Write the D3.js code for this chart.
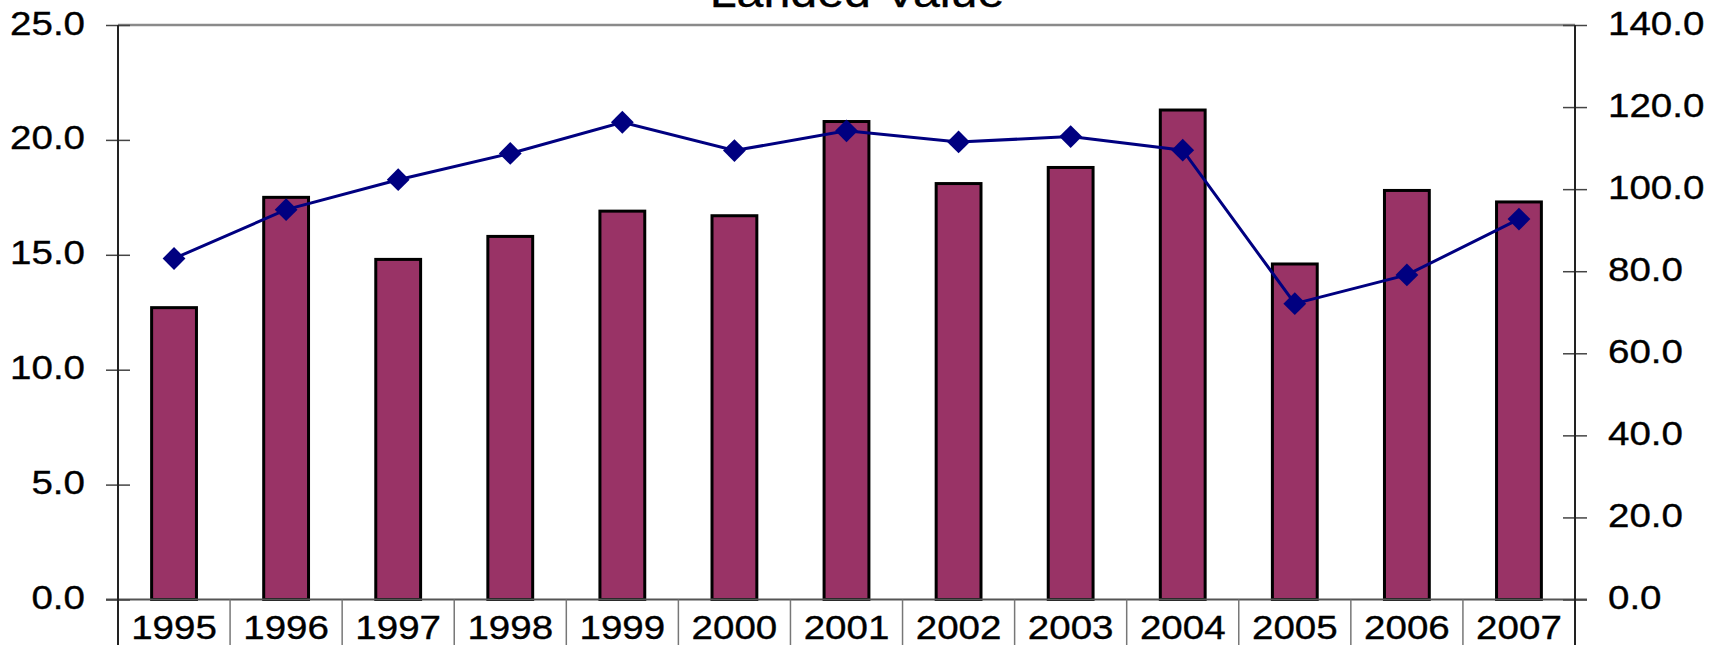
<!DOCTYPE html>
<html>
<head>
<meta charset="utf-8">
<script src="https://cdn.jsdelivr.net/npm/d3@7"></script>
<style>
  body { margin: 0; background: #fff; }
  text { font-family: "Liberation Sans", Arial, sans-serif; fill: #000; stroke: #000; stroke-width: 0.35px; }
</style>
</head>
<body>
<div id="chart"></div>
<script>
// chart data
const years = ["1995","1996","1997","1998","1999","2000","2001","2002","2003","2004","2005","2006","2007"];
const barValues = [12.7, 17.5, 14.8, 15.8, 16.9, 16.7, 20.8, 18.1, 18.8, 21.3, 14.6, 17.8, 17.3];
const lineValues = [83.1, 95.0, 102.3, 108.7, 116.3, 109.4, 114.2, 111.5, 112.8, 109.5, 72.1, 79.1, 92.7];
const leftTicks = [0, 5, 10, 15, 20, 25];
const rightTicks = [0, 20, 40, 60, 80, 100, 120, 140];
const chartTitle = "Landed Value";

const w = 1722, h = 645;
const plotL = 118, plotR = 1575, plotT = 25, plotB = 599.5;
const sx = 1.15; // text in the picture is a bit wide
const fs = 33.5;

const svg = d3.select("#chart").append("svg")
  .attr("width", w).attr("height", h);

const xScale = d3.scaleBand().domain(years).range([plotL, plotR]).padding(0);
const yLeft = d3.scaleLinear().domain([0, 25]).range([plotB, plotT]);
const yRight = d3.scaleLinear().domain([0, 140]).range([plotB, plotT]);
const bw = xScale.bandwidth();

// top border
svg.append("line")
  .attr("x1", plotL).attr("x2", plotR).attr("y1", plotT).attr("y2", plotT)
  .attr("stroke", "#8a8a8a").attr("stroke-width", 2.5);

// bars
svg.selectAll("rect.bar")
  .data(barValues)
  .enter()
  .append("rect")
  .attr("class", "bar")
  .attr("x", (d, i) => xScale(years[i]) + bw * 0.3)
  .attr("y", d => yLeft(d))
  .attr("width", bw * 0.4)
  .attr("height", d => plotB - yLeft(d))
  .attr("fill", "#993366")
  .attr("stroke", "#000")
  .attr("stroke-width", 3);

// bottom axis line + category dividers
svg.append("line")
  .attr("x1", plotL - 12).attr("x2", plotR + 12).attr("y1", plotB).attr("y2", plotB)
  .attr("stroke", "#555").attr("stroke-width", 2);

const dividers = years.map(y => xScale(y)).concat([plotR]);
svg.selectAll("line.div")
  .data(dividers)
  .enter()
  .append("line")
  .attr("x1", d => d).attr("x2", d => d)
  .attr("y1", plotB).attr("y2", h)
  .attr("stroke", (d, i) => (i == 0 || i == dividers.length - 1) ? "#222" : "#777")
  .attr("stroke-width", 1.5);

svg.selectAll("text.year")
  .data(years)
  .enter()
  .append("text")
  .attr("class", "year")
  .attr("transform", d => "translate(" + (xScale(d) + bw / 2) + "," + 639 + ") scale(" + sx + ",1)")
  .attr("text-anchor", "middle")
  .attr("font-size", fs)
  .text(d => d);

// left axis
const leftAxis = d3.axisLeft(yLeft)
  .tickValues(leftTicks)
  .tickFormat(d3.format(".1f"))
  .tickSize(12);
const gl = svg.append("g")
  .attr("transform", "translate(" + plotL + ",0)")
  .call(leftAxis);
gl.select(".domain").remove();
gl.selectAll(".tick line").attr("x1", 12).attr("x2", -12).attr("stroke", "#444").attr("stroke-width", 1.5);
gl.selectAll(".tick text")
  .attr("x", 0).attr("dy", null).attr("y", 0)
  .attr("transform", "translate(-33,9) scale(" + sx + ",1)")
  .attr("font-size", fs).attr("font-family", null);
gl.append("line").attr("x1", 0).attr("x2", 0).attr("y1", plotT).attr("y2", h)
  .attr("stroke", "#222").attr("stroke-width", 2);

// right axis
const rightAxis = d3.axisRight(yRight)
  .tickValues(rightTicks)
  .tickFormat(d3.format(".1f"))
  .tickSize(12);
const gr = svg.append("g")
  .attr("transform", "translate(" + plotR + ",0)")
  .call(rightAxis);
gr.select(".domain").remove();
gr.selectAll(".tick line").attr("x1", -12).attr("x2", 12).attr("stroke", "#444").attr("stroke-width", 1.5);
gr.selectAll(".tick text")
  .attr("x", 0).attr("dy", null).attr("y", 0)
  .attr("transform", "translate(33,9) scale(" + sx + ",1)")
  .attr("font-size", fs).attr("font-family", null);
gr.append("line").attr("x1", 0).attr("x2", 0).attr("y1", plotT).attr("y2", h)
  .attr("stroke", "#222").attr("stroke-width", 2);

// line series
const line = d3.line()
  .x((d, i) => xScale(years[i]) + bw / 2)
  .y(d => yRight(d));
svg.append("path")
  .datum(lineValues)
  .attr("d", line)
  .attr("fill", "none")
  .attr("stroke", "#000080")
  .attr("stroke-width", 3);

svg.selectAll("path.mark")
  .data(lineValues)
  .enter()
  .append("path")
  .attr("class", "mark")
  .attr("d", d3.symbol().type(d3.symbolSquare).size(260))
  .attr("transform", (d, i) => "translate(" + (xScale(years[i]) + bw / 2) + "," + yRight(d) + ") rotate(45)")
  .attr("fill", "#000080");

// title (cut off at top like the picture)
svg.append("text")
  .attr("transform", "translate(857,7) scale(" + sx + ",1)")
  .attr("text-anchor", "middle")
  .attr("font-size", 42)
  .text(chartTitle);
</script>
</body>
</html>
